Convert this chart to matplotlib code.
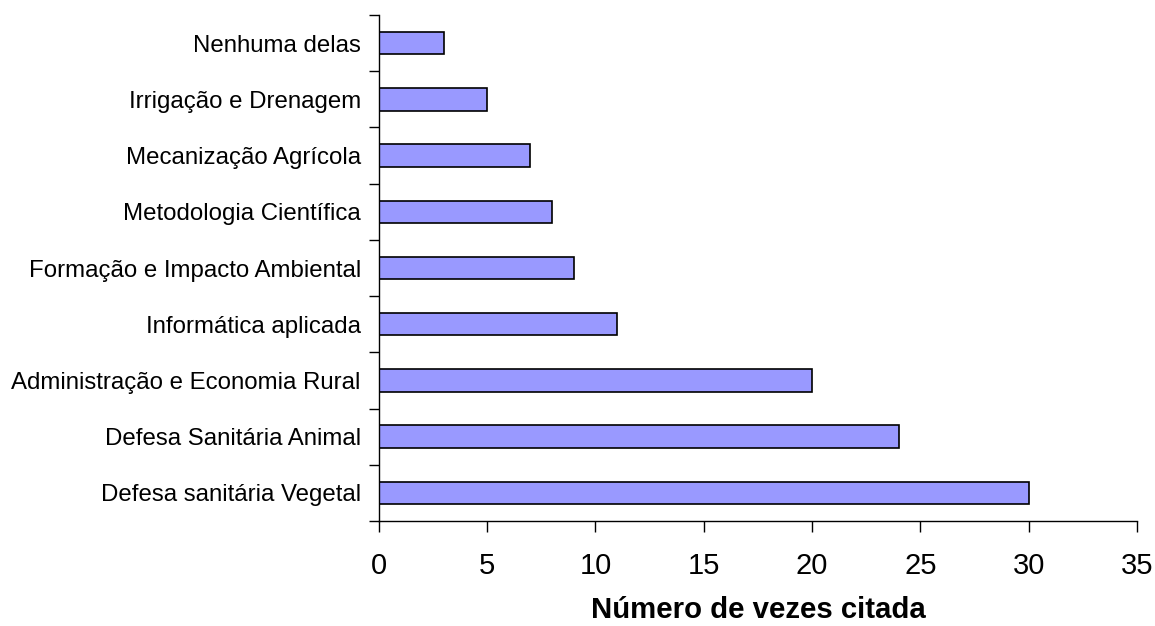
import numpy as np
import matplotlib.pyplot as plt

plt.rcParams['font.family'] = ['Liberation Sans', 'DejaVu Sans']

# dados (de baixo para cima)
categorias = ["Defesa sanitária Vegetal", "Defesa Sanitária Animal",
              "Administração e Economia Rural", "Informática aplicada",
              "Formação e Impacto Ambiental", "Metodologia Científica",
              "Mecanização Agrícola", "Irrigação e Drenagem", "Nenhuma delas"]
valores = [30, 24, 20, 11, 9, 8, 7, 5, 3]
xticks = [0, 5, 10, 15, 20, 25, 30, 35]

fig = plt.figure(figsize=(11.55, 6.26), dpi=100)
ax = fig.add_axes([0.328, 0.1677, 0.9844 - 0.328, 0.976 - 0.1677])

y = np.arange(len(categorias))
ax.barh(y, valores, height=0.4, color="#9999FF", edgecolor="black", linewidth=1.2)

ax.set_xlim(0, 35)
ax.set_ylim(-0.5, len(categorias) - 0.5)
ax.set_xticks(xticks)
ax.set_xticklabels([str(t) for t in xticks], fontsize=21)
ax.set_yticks(y)
ax.set_yticklabels(categorias, fontsize=17.3)
ax.tick_params(axis="y", length=0, pad=13)
ax.set_yticks(np.arange(len(categorias) + 1) - 0.5, minor=True)
ax.tick_params(axis="y", which="minor", length=7, width=1, direction="out")
ax.tick_params(axis="x", length=8, width=1, direction="out", pad=14)

ax.spines["top"].set_visible(False)
ax.spines["right"].set_visible(False)
ax.spines["left"].set_linewidth(1)
ax.spines["bottom"].set_linewidth(1)

ax.set_xlabel("Número de vezes citada", fontsize=21.2, fontweight="bold", labelpad=12)

fig.savefig("out.png", dpi=100)
